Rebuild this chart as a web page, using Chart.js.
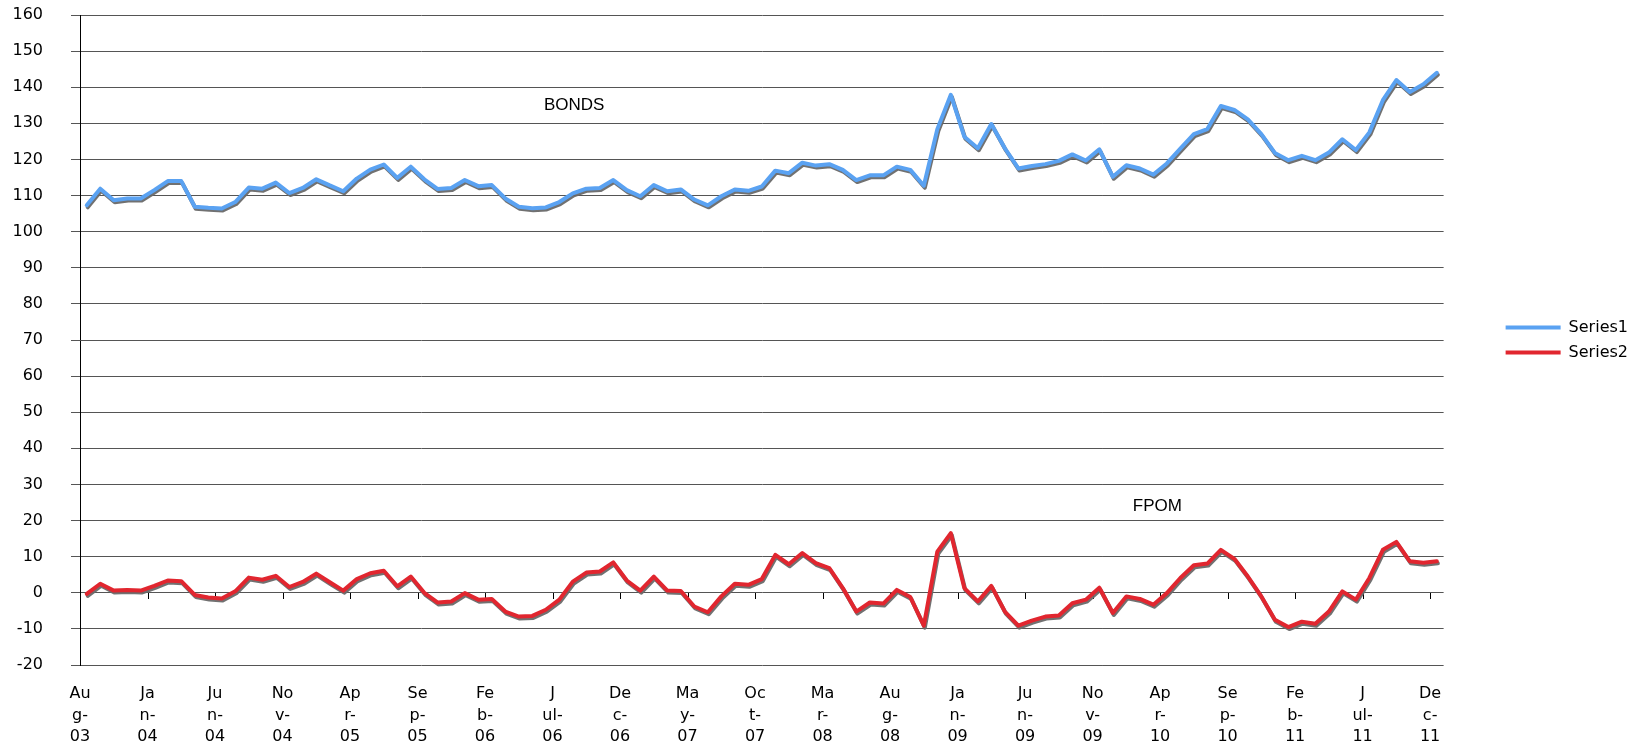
<!DOCTYPE html>
<html>
<head>
<meta charset="utf-8">
<script src="https://cdn.jsdelivr.net/npm/chart.js@4.4.1/dist/chart.umd.min.js"></script>
<style>
  html, body { margin: 0; padding: 0; background: #fff; }
  #wrap { width: 1644px; height: 747px; position: relative; }
</style>
</head>
<body>
<div id="wrap"><canvas id="bonds-chart"></canvas></div>
<script>
// months, Aug-03 .. Dec-11
const categories = [
    'Aug-03','Sep-03','Oct-03','Nov-03','Dec-03',
    'Jan-04','Feb-04','Mar-04','Apr-04','May-04','Jun-04','Jul-04','Aug-04','Sep-04','Oct-04','Nov-04','Dec-04',
    'Jan-05','Feb-05','Mar-05','Apr-05','May-05','Jun-05','Jul-05','Aug-05','Sep-05','Oct-05','Nov-05','Dec-05',
    'Jan-06','Feb-06','Mar-06','Apr-06','May-06','Jun-06','Jul-06','Aug-06','Sep-06','Oct-06','Nov-06','Dec-06',
    'Jan-07','Feb-07','Mar-07','Apr-07','May-07','Jun-07','Jul-07','Aug-07','Sep-07','Oct-07','Nov-07','Dec-07',
    'Jan-08','Feb-08','Mar-08','Apr-08','May-08','Jun-08','Jul-08','Aug-08','Sep-08','Oct-08','Nov-08','Dec-08',
    'Jan-09','Feb-09','Mar-09','Apr-09','May-09','Jun-09','Jul-09','Aug-09','Sep-09','Oct-09','Nov-09','Dec-09',
    'Jan-10','Feb-10','Mar-10','Apr-10','May-10','Jun-10','Jul-10','Aug-10','Sep-10','Oct-10','Nov-10','Dec-10',
    'Jan-11','Feb-11','Mar-11','Apr-11','May-11','Jun-11','Jul-11','Aug-11','Sep-11','Oct-11','Nov-11','Dec-11'
];

// BONDS
const series1 = [
    107.3, 111.9, 108.7, 109.2, 109.2, 111.5, 114.0, 114.0, 106.9, 106.6,
    106.4, 108.2, 112.2, 111.9, 113.6, 110.7, 112.1, 114.5, 112.8, 111.2,
    114.7, 117.2, 118.6, 114.9, 118.0, 114.5, 111.8, 112.1, 114.3, 112.6,
    112.9, 109.2, 106.9, 106.5, 106.7, 108.2, 110.6, 111.9, 112.1, 114.3,
    111.5, 109.8, 112.9, 111.2, 111.7, 108.9, 107.3, 109.8, 111.7, 111.3,
    112.5, 116.9, 116.2, 119.1, 118.3, 118.7, 117.1, 114.3, 115.6, 115.6,
    118.0, 117.1, 112.7, 128.4, 137.9, 126.3, 123.1, 129.8, 123.1, 117.5,
    118.2, 118.7, 119.6, 121.4, 119.7, 122.8, 115.2, 118.4, 117.5, 115.8,
    118.9, 123.0, 127.0, 128.4, 134.8, 133.7, 131.1, 127.0, 121.8, 119.8,
    121.0, 119.8, 121.9, 125.6, 122.6, 127.5, 136.4, 142.0, 138.7, 140.8,
    144.0
];

// FPOM
const series2 = [
    -0.3, 2.5, 0.6, 0.8, 0.6, 1.9, 3.4, 3.2, -0.6, -1.3,
    -1.6, 0.4, 4.2, 3.6, 4.7, 1.6, 3.0, 5.3, 2.9, 0.6,
    3.8, 5.4, 6.1, 1.8, 4.5, 0.0, -2.7, -2.4, -0.1, -1.9,
    -1.7, -5.2, -6.6, -6.4, -4.7, -1.9, 3.1, 5.6, 5.9, 8.4,
    3.4, 0.6, 4.5, 0.6, 0.5, -3.8, -5.4, -1.0, 2.5, 2.2,
    3.8, 10.5, 7.9, 11.0, 8.2, 6.8, 1.3, -5.2, -2.7, -3.0,
    0.8, -1.2, -9.1, 11.4, 16.5, 1.3, -2.4, 1.9, -5.2, -9.1,
    -7.7, -6.6, -6.3, -2.9, -1.9, 1.4, -5.6, -1.0, -1.7, -3.3,
    -0.1, 4.1, 7.6, 8.1, 11.9, 9.4, 4.5, -1.0, -7.5, -9.5,
    -8.0, -8.6, -5.2, 0.4, -1.9, 4.1, 11.9, 14.1, 8.7, 8.3,
    8.7
];

// every 5th month, wrapped like the original
const tickLabels = [
    ['Au','g-','03'], ['Ja','n-','04'], ['Ju','n-','04'], ['No','v-','04'], ['Ap','r-','05'],
    ['Se','p-','05'], ['Fe','b-','06'], ['J','ul-','06'], ['De','c-','06'], ['Ma','y-','07'],
    ['Oc','t-','07'], ['Ma','r-','08'], ['Au','g-','08'], ['Ja','n-','09'], ['Ju','n-','09'],
    ['No','v-','09'], ['Ap','r-','10'], ['Se','p-','10'], ['Fe','b-','11'], ['J','ul-','11'],
    ['De','c-','11']
];
const labelEvery = 5;

// text boxes inside the plot (category position, value)
const notes = [
    { text: 'BONDS', at: 36.1, value: 134.9 },
    { text: 'FPOM', at: 79.3, value: 23.9 }
];

Chart.defaults.font.family = "'DejaVu Sans', Verdana, sans-serif";
Chart.defaults.font.size = 16;
Chart.defaults.color = '#000';

// grey drop shadow under the lines
const lineShadow = {
    id: 'lineShadow',
    beforeDatasetDraw(chart) {
        const ctx = chart.ctx;
        ctx.save();
        ctx.shadowColor = 'rgba(105,105,105,0.95)';
        ctx.shadowOffsetX = 1;
        ctx.shadowOffsetY = 2;
        ctx.shadowBlur = 0;
    },
    afterDatasetDraw(chart) {
        chart.ctx.restore();
    }
};

// small tick marks sitting on the zero line
const zeroTicks = {
    id: 'zeroTicks',
    beforeDatasetsDraw(chart) {
        const { ctx, scales: { x, y } } = chart;
        const y0 = Math.round(y.getPixelForValue(0));
        ctx.save();
        ctx.strokeStyle = '#000';
        ctx.lineWidth = 1;
        for (let i = labelEvery; i < categories.length; i += labelEvery) {
            const px = Math.round(x.getPixelForValue(i - 0.5)) + 0.5;
            ctx.beginPath();
            ctx.moveTo(px, y0);
            ctx.lineTo(px, y0 + 6);
            ctx.stroke();
        }
        ctx.restore();
    }
};

const textNotes = {
    id: 'textNotes',
    afterDatasetsDraw(chart) {
        const { ctx, scales: { x, y } } = chart;
        ctx.save();
        ctx.font = "17px 'Liberation Sans', Arial, sans-serif";
        ctx.fillStyle = '#000';
        ctx.textAlign = 'center';
        ctx.textBaseline = 'middle';
        notes.forEach(n => {
            ctx.fillText(n.text, x.getPixelForValue(n.at), y.getPixelForValue(n.value));
        });
        ctx.restore();
    }
};

const chart = document.querySelector('#bonds-chart').getContext('2d');

new Chart(chart, {
    type: 'line',
    data: {
        labels: categories,
        datasets: [
            {
                label: 'Series1',
                data: series1,
                borderColor: '#5aa2f2',
                backgroundColor: '#5aa2f2',
                borderWidth: 4
            },
            {
                label: 'Series2',
                data: series2,
                borderColor: '#e1262f',
                backgroundColor: '#e1262f',
                borderWidth: 4
            }
        ]
    },
    options: {
        responsive: true,
        maintainAspectRatio: false,
        animation: false,
        events: [],
        elements: {
            point: { radius: 0 },
            line: { tension: 0, borderJoinStyle: 'round', borderCapStyle: 'round' }
        },
        layout: { padding: { top: 15, right: 6, bottom: 0, left: 0 } },
        scales: {
            x: {
                offset: true,
                grid: { display: false, drawTicks: false, offset: true },
                border: { display: false },
                ticks: {
                    autoSkip: false,
                    maxRotation: 0,
                    padding: 18,
                    labelOffset: -6.75,
                    font: { size: 16, lineHeight: 1.35 },
                    callback: (val, i) => i % labelEvery === 0 ? tickLabels[i / labelEvery] : null
                },
                afterFit(s) { s.height = 82; }
            },
            y: {
                min: -20,
                max: 160,
                ticks: { stepSize: 10, padding: 28, font: { size: 16 } },
                grid: { color: '#555555', tickLength: 9 },
                border: { display: true, color: '#000', width: 1 },
                afterFit(s) {
                    s.width = 80;
                    s.paddingTop = 0;
                    s.paddingBottom = 0;
                }
            },
            gap: {
                type: 'linear',
                position: 'right',
                display: true,
                grid: { display: false, drawTicks: false },
                border: { display: false },
                ticks: { display: false },
                afterFit(s) { s.width = 53; }
            }
        },
        plugins: {
            tooltip: { enabled: false },
            legend: {
                position: 'right',
                align: 'center',
                fullSize: false,
                labels: {
                    boxWidth: 55,
                    boxHeight: 4,
                    padding: 9,
                    color: '#000',
                    font: { size: 16 },
                    generateLabels(c) {
                        return Chart.defaults.plugins.legend.labels.generateLabels(c)
                            .map(l => ({ ...l, fillStyle: l.strokeStyle, lineWidth: 0 }));
                    }
                }
            }
        }
    },
    plugins: [lineShadow, zeroTicks, textNotes]
});
</script>
</body>
</html>
